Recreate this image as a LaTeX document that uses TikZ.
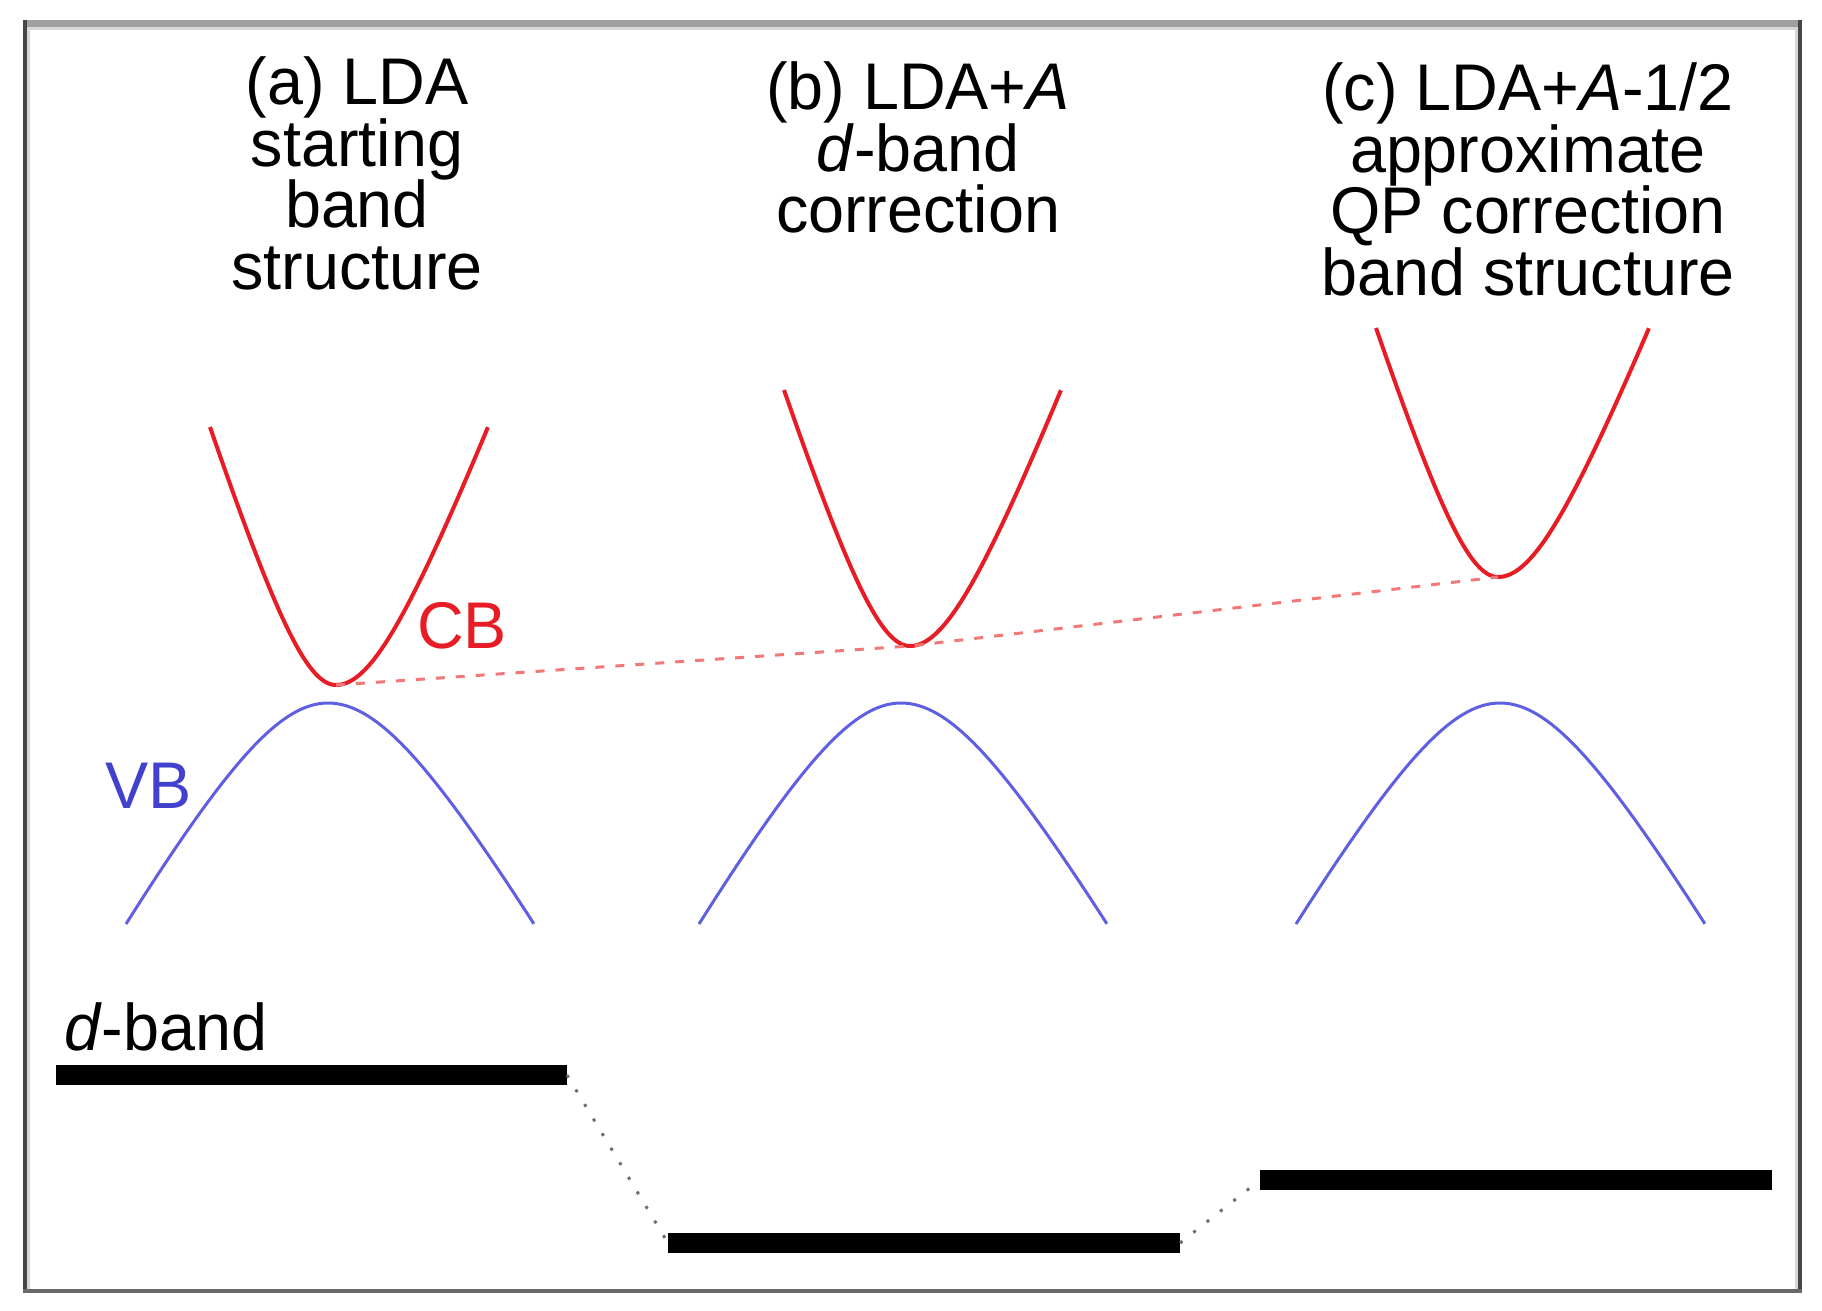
\documentclass[tikz,border=0pt]{standalone}
\usepackage{fontspec}
\setmainfont{Liberation Sans}[FakeStretch=0.98]
\lineskiplimit=-200pt
\definecolor{cbred}{RGB}{232,28,36}
\definecolor{cbdash}{RGB}{242,120,120}
\definecolor{vbblue}{RGB}{95,95,225}
\definecolor{vbtext}{RGB}{65,65,205}
\definecolor{frametop}{RGB}{160,160,160}
\definecolor{frameside}{RGB}{70,70,70}
\definecolor{framebot}{RGB}{105,105,105}
\definecolor{framelight}{RGB}{215,215,215}
\definecolor{dotgray}{RGB}{110,110,110}
\newcommand\cbband[5]{%
  \draw[cbline] plot[domain=-1:0,samples=60] ({#1+#4*\x},{#2-#3*(sqrt(1+4.84*(\x)*(\x))-1)/1.41661})
    -- plot[domain=0:1,samples=60] ({#1+#5*\x},{#2-#3*(sqrt(1+4.84*(\x)*(\x))-1)/1.41661});}
\newcommand\vbband[5]{%
  \draw[vbline] plot[domain=-1:0,samples=60] ({#1+#4*\x},{#2+#3*(sqrt(1+4*(\x)*(\x))-1)/1.23607})
    -- plot[domain=0:1,samples=60] ({#1+#5*\x},{#2+#3*(sqrt(1+4*(\x)*(\x))-1)/1.23607});}
\begin{document}
\begin{tikzpicture}[x=1pt,y=-1pt,
  every node/.style={inner sep=0pt,outer sep=0pt},
  bigtext/.style={font=\fontsize{66}{61.5}\selectfont, align=center},
  lbl/.style={font=\fontsize{66}{61}\selectfont},
  cbline/.style={cbred,line width=4pt,line join=round},
  vbline/.style={vbblue,line width=3pt,line join=round},
  cbdashed/.style={cbdash,line width=3pt,dash pattern=on 9pt off 11pt},
  dbar/.style={fill=black,draw=none,minimum height=20pt},
  dconn/.style={dotgray,line width=3pt,dash pattern=on 3pt off 14pt}
]
\useasboundingbox (0,0) rectangle (1822,1310);
% frame
\fill[framelight] (27,27) rectangle (30,1289);
\fill[framelight] (27,27) rectangle (1798,30);
\fill[framelight] (1795,27) rectangle (1798,1289);
\fill[frametop] (23,20) rectangle (1802,27);
\fill[frameside] (23,20) rectangle (27,1293);
\fill[frameside] (1798,20) rectangle (1802,1293);
\fill[framebot] (23,1289) rectangle (1802,1293);
% titles
\node[bigtext,anchor=north] (tA) at (357,57) {(a) LDA\\starting\\band\\structure};
\node[bigtext,anchor=north] (tB) at (918,62) {(b) LDA+\textit{A}\\\textit{d}-band\\correction};
\node[bigtext,anchor=north] (tC) at (1528,63) {(c) LDA+\textit{A}-1/2\\approximate\\QP correction\\band structure};
% conduction bands
\cbband{336}{685}{258}{126}{152}
\cbband{910}{646}{256}{126}{151}
\cbband{1498}{577}{249}{122}{151}
\coordinate (mA) at (336,685);
\coordinate (mB) at (910,646);
\coordinate (mC) at (1498,577);
\draw[cbdashed] (mA) -- (mB) -- (mC);
% valence bands
\vbband{328}{703}{221}{202}{206}
\vbband{901}{703}{221}{202}{206}
\vbband{1500}{703}{221}{204}{205}
% labels
\node[lbl,text=cbred,anchor=base west] (CB) at (417,648) {CB};
\node[lbl,text=vbtext,anchor=base west] (VB) at (105,808) {VB};
\node[lbl,anchor=base west] (dl) at (64,1050) {\textit{d}-band};
% d-band levels
\node[dbar,minimum width=511pt] (barA) at (311.5,1075) {};
\node[dbar,minimum width=512pt] (barB) at (924,1243) {};
\node[dbar,minimum width=512pt] (barC) at (1516,1180) {};
\draw[dconn] (barA.east) -- (barB.west);
\draw[dconn] (barB.east) -- (barC.west);
\end{tikzpicture}
\end{document}
